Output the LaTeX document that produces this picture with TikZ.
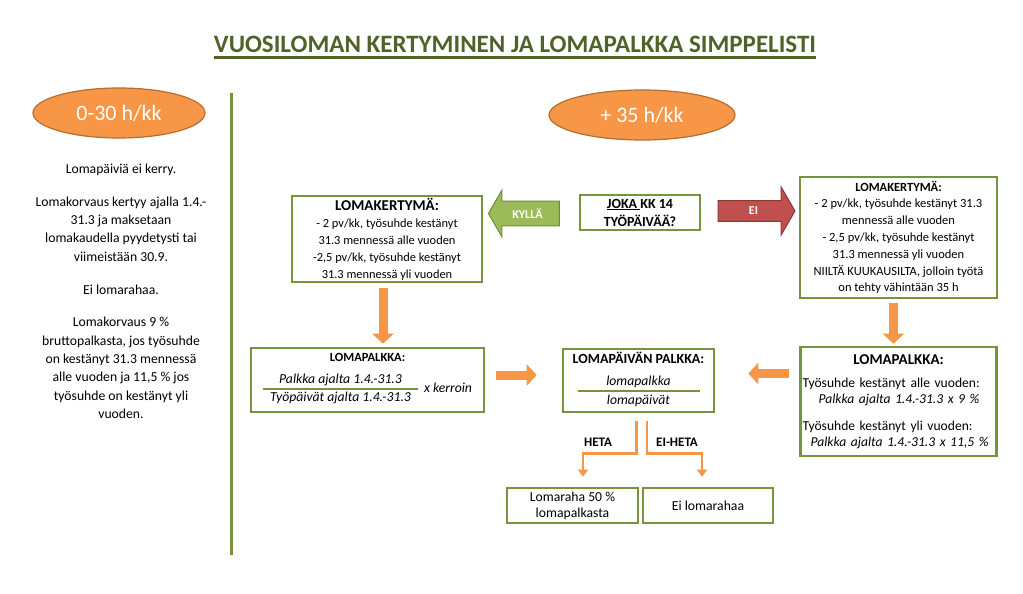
\documentclass[tikz,border=0pt]{standalone}
\usepackage{fontspec}
\usepackage{colortbl}
\setmainfont{Carlito}
\usetikzlibrary{arrows.meta,calc,positioning,shapes.geometric,shapes.arrows}

\definecolor{boxgreen}{HTML}{77933C}
\definecolor{titlegreen}{HTML}{4F6228}
\definecolor{ovalorange}{HTML}{F79646}
\definecolor{ovaledge}{HTML}{B66D31}
\definecolor{yesgreen}{HTML}{9BBB59}
\definecolor{yesedge}{HTML}{71893F}
\definecolor{nored}{HTML}{C0504D}
\definecolor{noedge}{HTML}{8C3836}

% murtoviiva: leveys, osoittaja, nimittäjä
\newcommand{\lomafrac}[3]{{\setlength{\arrayrulewidth}{1.8pt}\arrayrulecolor{boxgreen}%
  \begin{tabular}{@{}c@{}}\makebox[#1]{\itshape #2}\\\hline\makebox[#1]{\itshape #3}\end{tabular}}}
\newcommand{\fs}[2]{\fontsize{#1}{#2}\selectfont}

\begin{document}
\begin{tikzpicture}[
    x=1pt, y=-1pt,
    every node/.style={font=\fs{13.7}{17}, align=center},
    box/.style={draw=boxgreen, line width=2.6pt, inner sep=2pt},
    oval/.style={ellipse, fill=ovalorange, draw=ovaledge, line width=1.2pt, text=white,
        font=\fs{22}{26}, minimum height=50pt, inner sep=0pt},
    fatarrow/.style={-{Triangle[width=21pt,length=10pt]}, line width=9pt, ovalorange},
    thinarrow/.style={-{Triangle[width=10pt,length=7pt]}, line width=2.6pt, ovalorange},
    bigarrow/.style={single arrow, line width=1pt, text=white,
        font=\fs{12}{14}\bfseries, inner xsep=3pt, single arrow tip angle=120},
    lbl/.style={font=\fs{13}{15}\bfseries}
]
\useasboundingbox (0,0) rectangle (1023,594);

% otsikko
\node[font=\fs{25}{30}\bfseries, text=titlegreen, anchor=base, inner sep=0pt]
    (title) at (515,53) {VUOSILOMAN KERTYMINEN JA LOMAPALKKA SIMPPELISTI};
\draw[titlegreen, line width=2.4pt] ([yshift=-4.5pt]title.base west) -- ([yshift=-4.5pt]title.base east);

% jakoviiva
\draw[boxgreen, line width=3pt] (231,93) -- (231,555);

% tuntirajat
\node[oval, minimum width=172pt] (low) at (119,113) {0-30 h/kk};
\node[oval, minimum width=186pt] (high) at (642,115) {+ 35 h/kk};

% vasen sarake
\node[anchor=north, font=\fs{13.7}{18.3}] (lowtext) at (121,160) {%
    Lomapäiviä ei kerry.\\[15pt]
    Lomakorvaus kertyy ajalla 1.4.-\\31.3 ja maksetaan\\lomakaudella pyydetysti tai\\viimeistään 30.9.\\[15pt]
    Ei lomarahaa.\\[14pt]
    Lomakorvaus 9 \%\\bruttopalkasta, jos työsuhde\\on kestänyt 31.3 mennessä\\alle vuoden ja 11,5 \% jos\\työsuhde on kestänyt yli\\vuoden.};

% kertymä
\node[box, font=\fs{14}{18}\bfseries, minimum width=120pt, minimum height=35pt]
    (joka) at (640,212.5) {\underline{JOKA }KK 14\\TYÖPÄIVÄÄ?};
\node[box, font=\fs{12.4}{17}, minimum width=190pt, minimum height=86pt] (kert1) at (387,239)
    {{\fs{15}{17}\bfseries LOMAKERTYMÄ:}\\- 2 pv/kk, työsuhde kestänyt\\31.3 mennessä alle vuoden\\-2,5 pv/kk, työsuhde kestänyt\\31.3 mennessä yli vuoden};
\node[box, font=\fs{12.5}{16.8}, minimum width=197pt, minimum height=121pt, inner sep=0pt] (kert2) at (898.5,237.5)
    {\textbf{LOMAKERTYMÄ:}\\- 2 pv/kk, työsuhde kestänyt 31.3\\mennessä alle vuoden\\- 2,5 pv/kk, työsuhde kestänyt\\31.3 mennessä yli vuoden\\NIILTÄ KUUKAUSILTA, jolloin työtä\\on tehty vähintään 35 h};

\node[bigarrow, shape border rotate=180, fill=yesgreen, draw=yesedge,
    minimum height=71pt, inner ysep=7pt, single arrow head extend=11pt]
    (kylla) at (527.5,213.5) {KYLLÄ};
\node[bigarrow, fill=nored, draw=noedge,
    minimum height=77pt, inner ysep=6pt, single arrow head extend=13.5pt]
    (ei) at (753.5,211) {EI};

% lomapalkka
\node[box, minimum width=233pt, minimum height=64pt] (lp1) at (367.5,380)
    {{\fs{12.5}{15}\bfseries LOMAPALKKA:}\\[9pt]\lomafrac{155pt}{Palkka ajalta 1.4.-31.3}{Työpäivät ajalta 1.4.-31.3}\hspace{6pt}\textit{x kerroin}};
\node[box, minimum width=151pt, minimum height=63pt] (pld) at (638.5,380.5)
    {{\fs{14}{15}\bfseries LOMAPÄIVÄN PALKKA:}\\[9pt]\lomafrac{122pt}{lomapalkka}{lomapäivät}};
\node[box, font=\fs{13.6}{16}, text width=192pt, align=left, minimum height=109pt] (rp) at (898.5,401.5)
    {\makebox[\linewidth]{\fs{15}{16}\bfseries LOMAPALKKA:}\\[7pt]
     Työsuhde kestänyt alle vuoden:\\
     \hspace*{16pt}\textit{Palkka ajalta 1.4.-31.3 x 9 \%}\\[11pt]
     Työsuhde kestänyt yli vuoden:\\
     \hspace*{8pt}\textit{Palkka ajalta 1.4.-31.3 x 11,5 \%}};

% lomaraha
\node[box, font=\fs{13.7}{16}, minimum width=131pt, minimum height=35pt] (raha) at (572.5,505.5) {Lomaraha 50 \%\\lomapalkasta};
\node[box, minimum width=130pt, minimum height=35pt] (eiraha) at (708,505.5) {Ei lomarahaa};
\node[lbl] (heta) at (598,442) {HETA};
\node[lbl] (eiheta) at (677,442) {EI-HETA};

% nuolet
\draw[fatarrow, shorten <=5pt, shorten >=3pt] ($(kert1.south)+(-4,0)$) -- ($(kert1.south |- lp1.north)+(-4,0)$);
\draw[fatarrow, shorten <=4pt, shorten >=2pt] ($(kert2.south)+(-5,0)$) -- ($(kert2.south |- rp.north)+(-5,0)$);
\draw[fatarrow, shorten <=11pt, shorten >=25pt] ($(lp1.east)+(0,-5)$) -- ($(lp1.east -| pld.west)+(0,-5)$);
\draw[fatarrow, shorten <=10pt, shorten >=33pt] ($(rp.west |- pld.east)+(0,-7)$) -- ($(pld.east)+(0,-7)$);
\draw[thinarrow] ($(pld.south)+(-2,8)$) -- ++(0,32) -| ($(raha.north)+(10.5,-10)$);
\draw[thinarrow] ($(pld.south)+(8.5,8)$) -- ++(0,32) -| ($(eiraha.north)+(-6,-10)$);
\end{tikzpicture}
\end{document}
